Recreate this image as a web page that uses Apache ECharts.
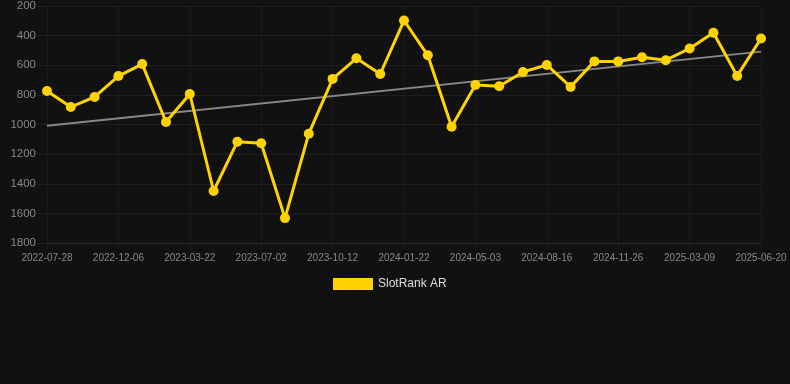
<!DOCTYPE html>
<html>
<head>
<meta charset="utf-8">
<script src="https://cdn.jsdelivr.net/npm/echarts@6/dist/echarts.min.js"></script>
<style>
html,body{margin:0;padding:0;background:#111111;}
#c{width:790px;height:384px;}
</style>
</head>
<body>
<div id="c"></div>
<script>
const categories = [
  '2022-07-28','2022-09-11','2022-10-24','2022-12-06','2023-01-10','2023-02-15',
  '2023-03-22','2023-04-26','2023-05-29','2023-07-02','2023-08-05','2023-09-08',
  '2023-10-12','2023-11-15','2023-12-19','2024-01-22','2024-02-25','2024-03-30',
  '2024-05-03','2024-06-06','2024-07-11','2024-08-16','2024-09-23','2024-10-20',
  '2024-11-26','2024-12-30','2025-02-03','2025-03-09','2025-04-12','2025-05-17',
  '2025-06-20'
];
const slotRankAR = [
  774, 882, 814, 673, 592, 983, 794, 1449, 1116, 1127, 1632, 1062,
  692, 553, 659, 298, 533, 1015, 733, 742, 645, 598, 746, 574,
  574, 546, 566, 487, 381, 672, 419
];
const trendStart = 1008;
const trendEnd = 508;
const yTicks = { min: 200, max: 1800, interval: 200 };

const trend = categories.map((c, i) => i === 0 ? trendStart : (i === categories.length - 1 ? trendEnd : null));

const chart = echarts.init(document.getElementById('c'));
chart.setOption({
  backgroundColor: '#111111',
  animation: false,
  grid: { left: 47, right: 29, top: 6, bottom: 141, containLabel: false },
  legend: {
    data: ['SlotRank AR'],
    top: 278,
    left: 333,
    itemWidth: 40,
    itemHeight: 12,
    itemGap: 10,
    padding: 0,
    icon: 'rect',
    textStyle: { color: '#dddddd', fontSize: 12, fontFamily: 'Liberation Sans, Arial, sans-serif' }
  },
  xAxis: {
    type: 'category',
    data: categories,
    boundaryGap: false,
    axisLine: { lineStyle: { color: '#2c2c2c' } },
    axisTick: { show: true, interval: 2, length: 6, lineStyle: { color: '#1c1c1c' } },
    axisLabel: { interval: 2, color: '#888888', fontSize: 10, margin: 10, fontFamily: 'Liberation Sans, Arial, sans-serif' },
    splitLine: { show: true, interval: 2, lineStyle: { color: '#1a1a1a' } }
  },
  yAxis: {
    type: 'value',
    inverse: true,
    min: yTicks.min,
    max: yTicks.max,
    interval: yTicks.interval,
    axisLine: { show: false },
    axisTick: { show: true, length: 10, lineStyle: { color: '#202020' } },
    axisLabel: { color: '#888888', fontSize: 11.5, margin: 11, formatter: v => String(v), fontFamily: 'Liberation Sans, Arial, sans-serif' },
    splitLine: { lineStyle: { color: '#202020' } }
  },
  series: [
    {
      name: 'Trend',
      type: 'line',
      data: trend,
      connectNulls: true,
      symbol: 'none',
      lineStyle: { color: '#888888', width: 2 },
      z: 1
    },
    {
      name: 'SlotRank AR',
      type: 'line',
      data: slotRankAR,
      symbol: 'circle',
      symbolSize: 10,
      itemStyle: { color: '#FFD300' },
      lineStyle: { color: '#FFD300', width: 3 },
      z: 2
    }
  ]
});
</script>
</body>
</html>
